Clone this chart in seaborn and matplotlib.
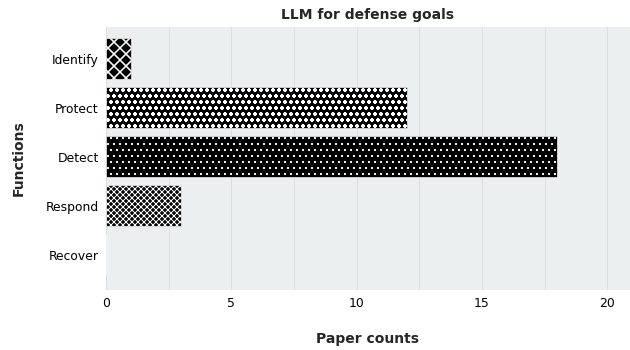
import seaborn as sns
import matplotlib.pyplot as plt
from matplotlib.ticker import MultipleLocator
import pandas

functions = ["Identify", "Protect", "Detect", "Respond", "Recover"]
counts = [1, 12, 18, 3, 0]
hatches = ["xx", "oo", "..", "xxxx", "///"]

sns.set_theme(style="white")
plt.rcParams["font.family"] = ["DejaVu Sans"]
plt.rcParams["hatch.linewidth"] = 1.0

data = pandas.DataFrame({"function": functions, "count": counts})

# drawn at 72 dpi so the hatch spacing matches
fig, ax = plt.subplots(figsize=(630 / 72, 350 / 72), dpi=72)
ax.set_facecolor("#ECEFF0")
sns.barplot(data, x="count", y="function", color="black", width=0.84,
            edgecolor="white", linewidth=0.6, ax=ax, saturation=1)
for bar, h in zip(ax.patches, hatches):
    bar.set_hatch(h)
if hasattr(ax.patches[0], "set_hatch_linewidth"):
    ax.patches[0].set_hatch_linewidth(1.6)

ax.set_xlim(0, 20.9)
ax.set_ylim(4.72, -0.65)
ax.xaxis.set_major_locator(MultipleLocator(5))
ax.xaxis.set_minor_locator(MultipleLocator(2.5))
ax.grid(axis="x", which="both", color="#dadedf", linewidth=1.0)
ax.set_axisbelow(True)
for s in ax.spines.values():
    s.set_visible(False)
ax.tick_params(axis="both", labelsize=12.4, length=0, colors="black")
ax.tick_params(axis="y", pad=7)
ax.tick_params(axis="x", which="major", length=3, width=1, color="#333333", pad=4)
ax.set_title("LLM for defense goals", fontsize=13.9, fontweight="bold", pad=8)
ax.set_xlabel("Paper counts", fontsize=13.9, fontweight="bold", labelpad=22)
ax.set_ylabel("Functions", fontsize=13.9, fontweight="bold", labelpad=20)

plt.subplots_adjust(left=0.168, right=1.0, top=0.923, bottom=0.171)
plt.savefig("out.png", dpi=72)
